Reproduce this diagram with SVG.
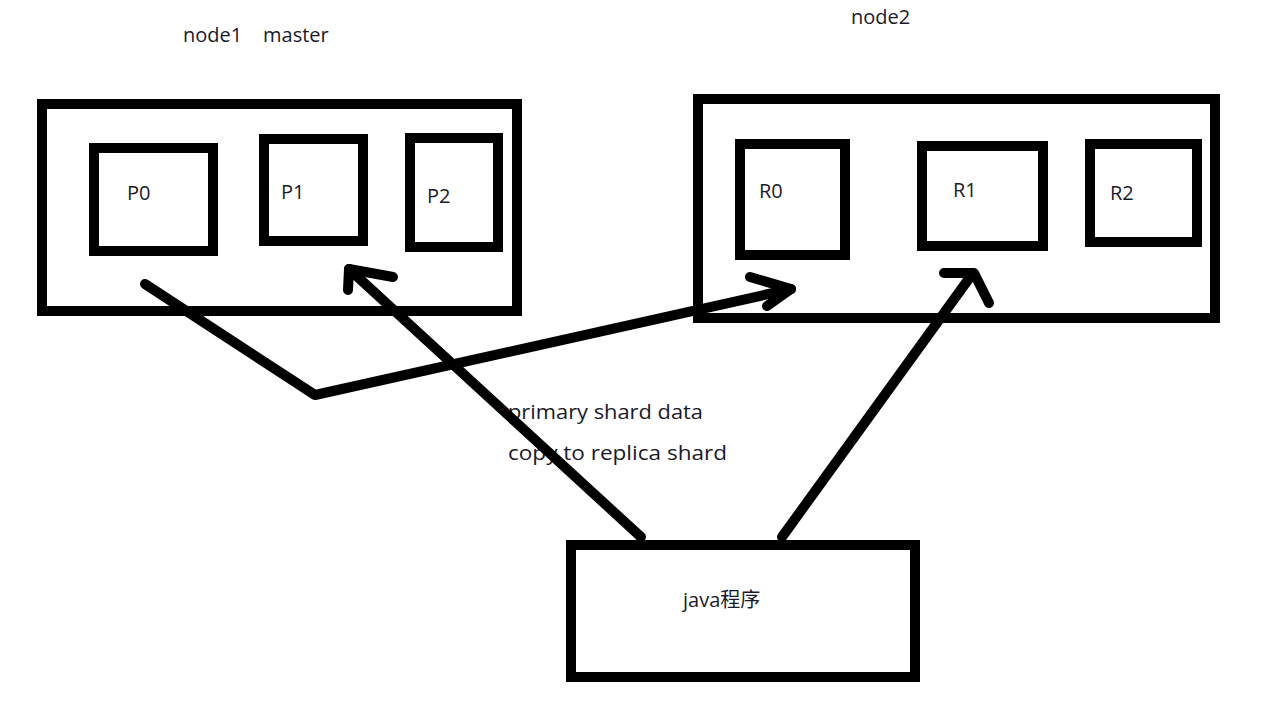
<svg xmlns="http://www.w3.org/2000/svg" width="1270" height="720" viewBox="0 0 1270 720">
<style>
.box{fill:none;stroke:#000;stroke-width:10}
.lbl{font-family:"Open Sans","Noto Sans CJK SC",sans-serif;font-size:20px;fill:#1a1a2a}
.ln{fill:none;stroke:#000;stroke-width:10;stroke-linecap:round;stroke-linejoin:round}
</style>
<rect width="1270" height="720" fill="#fff"/>
<g id="node1">
<rect class="box" x="42" y="104" width="475" height="207"/>
<text class="lbl" x="183" y="42">node1<tspan x="263">master</tspan></text>
</g>
<g id="P0"><rect class="box" x="94" y="148" width="119" height="103"/><text class="lbl" x="127" y="200">P0</text></g>
<g id="P1"><rect class="box" x="264" y="139" width="99" height="102"/><text class="lbl" x="281" y="199">P1</text></g>
<g id="P2"><rect class="box" x="410" y="138" width="88" height="109"/><text class="lbl" x="427" y="203">P2</text></g>
<g id="node2">
<rect class="box" x="698" y="99" width="517" height="219"/>
<text class="lbl" x="851" y="24">node2</text>
</g>
<g id="R0"><rect class="box" x="740" y="144" width="105" height="111"/><text class="lbl" x="759" y="198">R0</text></g>
<g id="R1"><rect class="box" x="922" y="146" width="121" height="100"/><text class="lbl" x="953" y="197">R1</text></g>
<g id="R2"><rect class="box" x="1090" y="144" width="107" height="98"/><text class="lbl" x="1110" y="200">R2</text></g>
<g id="java"><rect class="box" x="571" y="545" width="344" height="132"/><text class="lbl" x="683" y="607">java程序</text></g>
<g id="note">
<text class="lbl" x="508" y="419" textLength="195" lengthAdjust="spacingAndGlyphs">primary shard data</text>
<text class="lbl" x="508" y="460" textLength="219" lengthAdjust="spacingAndGlyphs">copy to replica shard</text>
</g>
<g id="connectors">
<polyline class="ln" points="145,284 315,395 791,289"/>
<polyline class="ln" points="750,277 791,289 767,306"/>
<line class="ln" x1="641" y1="537" x2="349" y2="269"/>
<polyline class="ln" points="393,277 349,269 348,290"/>
<line class="ln" x1="782" y1="537" x2="973" y2="273"/>
<polyline class="ln" points="944,273 974,273 989,303"/>
</g>
</svg>
